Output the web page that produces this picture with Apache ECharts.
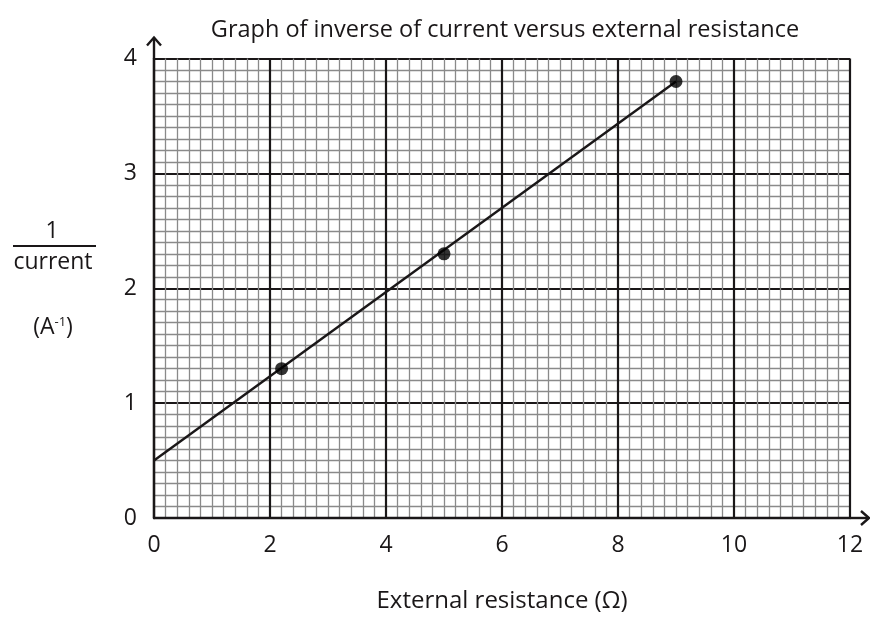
<!DOCTYPE html>
<html>
<head>
<meta charset="utf-8">
<script src="https://cdn.jsdelivr.net/npm/echarts@6/dist/echarts.min.js"></script>
<style>
  html, body { margin: 0; padding: 0; background: #fff; }
  #chart { width: 870px; height: 618px; }
</style>
</head>
<body>
<div id="chart"></div>
<script>
// Measured points: external resistance (Ω) and inverse of current (A^-1)
const resistance = [2.2, 5.0, 9.0];
const inverseCurrent = [1.3, 2.3, 3.8];

// Straight line of best fit through the points
const fitResistance = [0, 9.0];
const fitInverseCurrent = [0.5, 3.8];

// Axis ranges and tick steps
const xTicks = [0, 2, 4, 6, 8, 10, 12];
const yTicks = [0, 1, 2, 3, 4];

const FONT = '"Open Sans", "Noto Sans", sans-serif';
const INK = '#1a1718';
const LABEL_SIZE = 23;

const chart = echarts.init(document.getElementById('chart'), null, { renderer: 'canvas' });

const gridBox = { left: 154, top: 58.5, width: 696, height: 462 };

const pointData = resistance.map((x, i) => [x, inverseCurrent[i]]);
const fitData = fitResistance.map((x, i) => [x, fitInverseCurrent[i]]);

chart.setOption({
  backgroundColor: '#ffffff',
  animation: false,
  title: {
    text: 'Graph of inverse of current versus external resistance',
    left: 500,
    top: 13,
    textAlign: 'center',
    textStyle: { fontFamily: FONT, fontSize: 23.5, fontWeight: 'normal', color: INK }
  },
  grid: Object.assign({ containLabel: false }, gridBox),
  xAxis: {
    type: 'value',
    min: xTicks[0],
    max: xTicks[xTicks.length - 1],
    interval: xTicks[1] - xTicks[0],
    name: 'External resistance (Ω)',
    nameLocation: 'middle',
    nameGap: 71,
    nameTextStyle: { fontFamily: FONT, fontSize: 24, color: INK },
    axisLine: { show: true, onZero: false, lineStyle: { color: INK, width: 2.4 } },
    axisTick: { show: false },
    axisLabel: { margin: 16, fontFamily: FONT, fontSize: LABEL_SIZE, color: INK },
    splitLine: { show: true, lineStyle: { color: INK, width: 2.2 } },
    minorTick: { show: false, splitNumber: 10 },
    minorSplitLine: { show: true, lineStyle: { color: '#8a8a8a', width: 1.3 } }
  },
  yAxis: {
    type: 'value',
    min: yTicks[0],
    max: yTicks[yTicks.length - 1],
    interval: yTicks[1] - yTicks[0],
    axisLine: { show: true, onZero: false, lineStyle: { color: INK, width: 2.4 } },
    axisTick: { show: false },
    axisLabel: { margin: 17, fontFamily: FONT, fontSize: LABEL_SIZE, color: INK },
    splitLine: { show: true, lineStyle: { color: INK, width: 2.2 } },
    minorTick: { show: false, splitNumber: 10 },
    minorSplitLine: { show: true, lineStyle: { color: '#8a8a8a', width: 1.3 } }
  },
  series: [
    {
      type: 'line',
      data: fitData,
      symbol: 'none',
      lineStyle: { color: INK, width: 2.4 },
      z: 5
    },
    {
      type: 'scatter',
      data: pointData,
      symbol: 'circle',
      symbolSize: 13,
      itemStyle: { color: '#000000' },
      z: 6
    }
  ]
});

// Axis extensions with open arrow heads, plus the y-axis label as a fraction
function drawDecorations() {
  const origin = chart.convertToPixel({ gridIndex: 0 }, [xTicks[0], yTicks[0]]);
  const corner = chart.convertToPixel({ gridIndex: 0 }, [xTicks[xTicks.length - 1], yTicks[yTicks.length - 1]]);
  const ox = origin[0], oy = origin[1];
  const topY = corner[1], rightX = corner[0];
  const lineStyle = { stroke: INK, lineWidth: 2.4, fill: null };
  const tipY = topY - 21;
  const tipX = rightX + 19;
  const font = LABEL_SIZE + 'px ' + FONT;

  chart.setOption({
    graphic: [
      { type: 'polyline', shape: { points: [[ox, topY], [ox, tipY]] }, style: lineStyle, silent: true },
      { type: 'polyline', shape: { points: [[ox - 7, tipY + 8], [ox, tipY], [ox + 7, tipY + 8]] }, style: lineStyle, silent: true },
      { type: 'polyline', shape: { points: [[rightX, oy], [tipX, oy]] }, style: lineStyle, silent: true },
      { type: 'polyline', shape: { points: [[tipX - 8, oy - 7], [tipX, oy], [tipX - 8, oy + 7]] }, style: lineStyle, silent: true },
      {
        type: 'text', x: 52, y: 231, silent: true,
        style: { text: '1', font: font, fill: INK, align: 'center', verticalAlign: 'middle' }
      },
      {
        type: 'line', silent: true,
        shape: { x1: 13, y1: 246, x2: 96, y2: 246 },
        style: { stroke: INK, lineWidth: 1.8 }
      },
      {
        type: 'text', x: 53, y: 262, silent: true,
        style: { text: 'current', font: font, fill: INK, align: 'center', verticalAlign: 'middle' }
      },
      {
        type: 'text', x: 53, y: 327, silent: true,
        style: {
          text: '(A{sup|-1})',
          font: font,
          fill: INK,
          align: 'center',
          verticalAlign: 'middle',
          rich: {
            sup: { fontSize: 13, fontFamily: FONT, fill: INK, verticalAlign: 'top', padding: [0, 0, 10, 0] }
          }
        }
      }
    ]
  });
}

drawDecorations();
</script>
</body>
</html>
